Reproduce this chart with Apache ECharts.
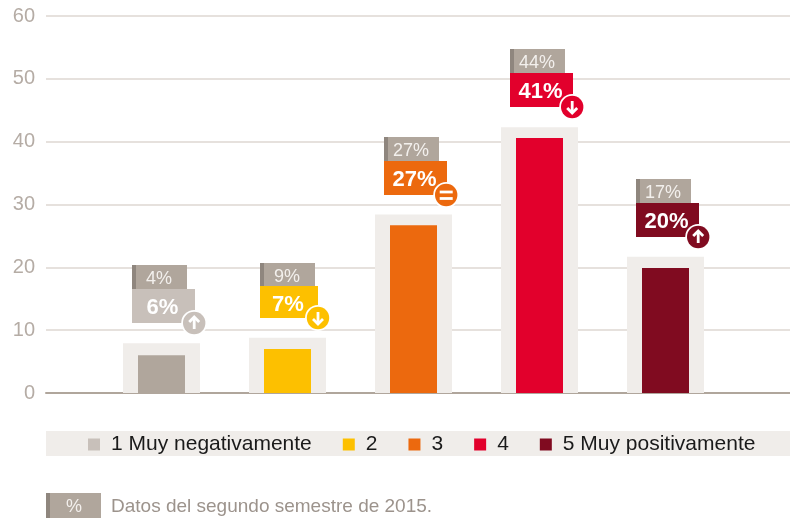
<!DOCTYPE html>
<html>
<head>
<meta charset="utf-8">
<style>html,body{margin:0;padding:0;background:#fff}#c{width:790px;height:519px}</style>
<script src="https://cdn.jsdelivr.net/npm/echarts@6/dist/echarts.min.js"></script>
</head>
<body>
<div id="c"></div>
<script>
var categories = ['1 Muy negativamente', '2', '3', '4', '5 Muy positivamente'];
var barValues = [6, 7, 26.7, 40.6, 19.9];
var backdropValues = [7.9, 8.8, 28.4, 42.3, 21.7];
var currentLabels = ['6%', '7%', '27%', '41%', '20%'];
var previousLabels = ['4%', '9%', '27%', '44%', '17%'];
var trends = ['up', 'down', 'equal', 'down', 'up'];
var yTicks = [0, 10, 20, 30, 40, 50, 60];
var barColors = ['#b0a69c', '#fdc000', '#ec690e', '#e2002c', '#800b20'];
var boxColors = ['#c8c0ba', '#fdc000', '#ec690e', '#e2002c', '#800b20'];
var footnoteUnit = '%';
var footnoteText = 'Datos del segundo semestre de 2015.';

var FONT = '"Liberation Sans", Arial, sans-serif';
var xMin = 1 - 115.5 / 126, xMax = xMin + 744 / 126;

function renderCallout(params, api) {
  var i = params.dataIndex;
  var p = api.coord([i + 1, backdropValues[i]]);
  var cx = p[0], top = p[1];
  var narrow = currentLabels[i] === '7%';
  var left = Math.round(cx - (narrow ? 27.5 : 29.5));
  var boxW = narrow ? 58 : 63;
  var boxBottom = Math.floor(top - 19.5);
  var boxTop = boxBottom - (narrow ? 32 : 34);
  var greyTop = boxTop - (narrow ? 23 : 24);
  var color = boxColors[i];
  var ex = left + boxW - (narrow ? 0 : 0.8), ey = boxBottom;
  var white = { stroke: '#fff', lineWidth: 2.8, fill: null };
  var glyph = [];
  if (trends[i] === 'equal') {
    glyph = [
      { type: 'line', shape: { x1: ex - 6.5, y1: ey - 3, x2: ex + 6.5, y2: ey - 3 }, style: white },
      { type: 'line', shape: { x1: ex - 6.5, y1: ey + 3.5, x2: ex + 6.5, y2: ey + 3.5 }, style: white }
    ];
  } else {
    var d = trends[i] === 'up' ? -1 : 1;
    glyph = [
      { type: 'line', shape: { x1: ex, y1: ey - 6 * d, x2: ex, y2: ey + 6 * d }, style: white },
      { type: 'polyline', shape: { points: [[ex - 5, ey + 1 * d], [ex, ey + 6 * d], [ex + 5, ey + 1 * d]] }, style: white }
    ];
  }
  return {
    type: 'group',
    children: [
      { type: 'rect', shape: { x: left, y: greyTop, width: 55, height: 25 }, style: { fill: '#b0a69c' } },
      { type: 'rect', shape: { x: left, y: greyTop, width: 4, height: 25 }, style: { fill: '#8f867e' } },
      { type: 'text', style: { x: left + 27, y: greyTop + 14, text: previousLabels[i], fill: '#f3f0ed', font: '18px ' + FONT, align: 'center', verticalAlign: 'middle' } },
      { type: 'rect', shape: { x: left, y: boxTop, width: boxW, height: boxBottom - boxTop }, style: { fill: color } },
      { type: 'text', style: { x: left + boxW / 2 - 1, y: boxTop + 19, text: currentLabels[i], fill: '#fff', font: 'bold 22px ' + FONT, align: 'center', verticalAlign: 'middle' } },
      { type: 'circle', shape: { cx: ex, cy: ey, r: 13 }, style: { fill: '#fff' } },
      { type: 'circle', shape: { cx: ex, cy: ey, r: 11.2 }, style: { fill: color } }
    ].concat(glyph)
  };
}

var series = [{
  type: 'bar', name: 'fondo', xAxisIndex: 1, barWidth: 77, silent: true, z: 2,
  itemStyle: { color: '#f0edea' },
  data: backdropValues.map(function (v, i) { return [i + 1, v]; })
}];
categories.forEach(function (name, i) {
  series.push({
    type: 'bar', name: name, xAxisIndex: 0, barWidth: 47, barGap: '-100%', silent: true, z: 3,
    itemStyle: { color: barColors[i] },
    data: [[i + 1, barValues[i]]]
  });
});
series.push({
  type: 'custom', name: 'etiquetas', xAxisIndex: 0, coordinateSystem: 'cartesian2d', clip: false, silent: true, z: 6,
  renderItem: renderCallout,
  data: currentLabels.map(function (l, i) { return [i + 1, backdropValues[i]]; })
});

var hiddenX = { type: 'value', min: xMin, max: xMax, axisLabel: { show: false }, axisTick: { show: false }, splitLine: { show: false } };

var chart = echarts.init(document.getElementById('c'), null, { renderer: 'canvas' });
chart.setOption({
  animation: false,
  backgroundColor: '#fff',
  grid: { left: 46, right: 0, top: 16, height: 377, containLabel: false },
  xAxis: [
    Object.assign({}, hiddenX, { axisLine: { show: true, onZero: false, lineStyle: { color: '#b0a69c', width: 2 } } }),
    Object.assign({}, hiddenX, { axisLine: { show: false } })
  ],
  yAxis: {
    type: 'value', min: yTicks[0], max: yTicks[yTicks.length - 1], interval: 10,
    axisLine: { show: false }, axisTick: { show: false },
    axisLabel: { color: '#b5aca5', fontSize: 20, fontFamily: FONT, margin: 11, padding: [3, 0, 0, 0] },
    splitLine: { lineStyle: { color: '#e6e1dd', width: 2 } }
  },
  legend: {
    left: 88, top: 434, padding: 0, itemWidth: 12, itemHeight: 12, itemGap: 31, selectedMode: false, icon: 'rect',
    textStyle: { color: '#1a1a1a', fontSize: 21, fontFamily: FONT, padding: [4, 0, 0, 6] },
    data: categories.map(function (name, i) { return { name: name, itemStyle: { color: boxColors[i] } }; })
  },
  graphic: [
    { type: 'rect', z: -1, shape: { x: 46, y: 431, width: 744, height: 25 }, style: { fill: '#f0edea' } },
    { type: 'rect', shape: { x: 46, y: 493, width: 55, height: 25 }, style: { fill: '#b0a69c' } },
    { type: 'rect', shape: { x: 46, y: 493, width: 4, height: 25 }, style: { fill: '#8f867e' } },
    { type: 'text', style: { x: 74, y: 507, text: footnoteUnit, fill: '#f3f0ed', font: '18px ' + FONT, align: 'center', verticalAlign: 'middle' } },
    { type: 'text', style: { x: 111, y: 507, text: footnoteText, fill: '#9c938c', font: '19px ' + FONT, align: 'left', verticalAlign: 'middle' } }
  ],
  series: series
});
</script>
</body>
</html>
